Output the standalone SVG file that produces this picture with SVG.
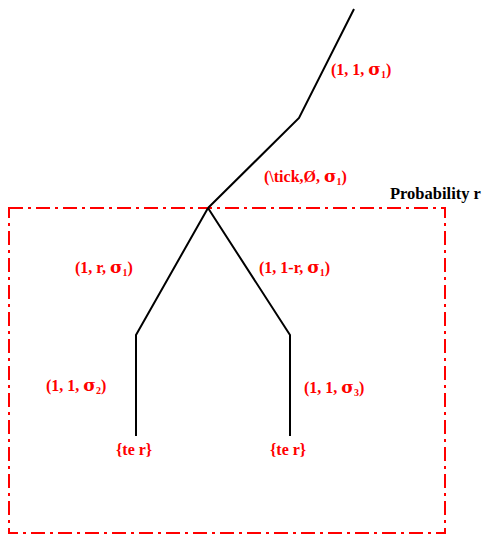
<svg xmlns="http://www.w3.org/2000/svg" width="483" height="537" viewBox="0 0 483 537">
<style>
.lbl{font-family:"Liberation Serif","Times New Roman",serif;font-weight:bold;font-size:16px;fill:#ff0000}
.sg{font-family:"DejaVu Serif",serif;font-size:17px;font-weight:bold}
.sub{font-size:10px}
.title{font-family:"Liberation Serif","Times New Roman",serif;font-weight:bold;font-size:16.5px;fill:#000}
.edge{stroke:#000;stroke-width:2;fill:none}
</style>
<rect width="483" height="537" fill="#fff"/>
<g id="box">
<rect x="9" y="208" width="436" height="325" fill="none" stroke="#ff0000" stroke-width="2" stroke-dasharray="14,5,3,5"/>
<text class="title" x="390" y="199">Probability r</text>
</g>
<g id="connectors">
<polyline class="edge" points="354,9 299,118 208,208"/>
<polyline class="edge" points="208,208 136,335 136,436"/>
<polyline class="edge" points="208,208 290,335 290,436"/>
</g>
<g id="labels">
<text class="lbl" x="331" y="75">(1, 1, <tspan class="sg">σ</tspan><tspan class="sub" dy="3">1</tspan><tspan dy="-3">)</tspan></text>
<text class="lbl" x="264" y="182">(\tick,Ø, <tspan class="sg">σ</tspan><tspan class="sub" dy="3">1</tspan><tspan dy="-3">)</tspan></text>
<text class="lbl" x="75" y="273">(1, r, <tspan class="sg">σ</tspan><tspan class="sub" dy="3">1</tspan><tspan dy="-3">)</tspan></text>
<text class="lbl" x="259" y="273">(1, 1-r, <tspan class="sg">σ</tspan><tspan class="sub" dy="3">1</tspan><tspan dy="-3">)</tspan></text>
<text class="lbl" x="46" y="391">(1, 1, <tspan class="sg">σ</tspan><tspan class="sub" dy="3">2</tspan><tspan dy="-3">)</tspan></text>
<text class="lbl" x="304" y="393">(1, 1, <tspan class="sg">σ</tspan><tspan class="sub" dy="3">3</tspan><tspan dy="-3">)</tspan></text>
</g>
<g id="ter1"><text class="lbl" x="116" y="455">{te r}</text></g>
<g id="ter2"><text class="lbl" x="270" y="455">{te r}</text></g>
</svg>
